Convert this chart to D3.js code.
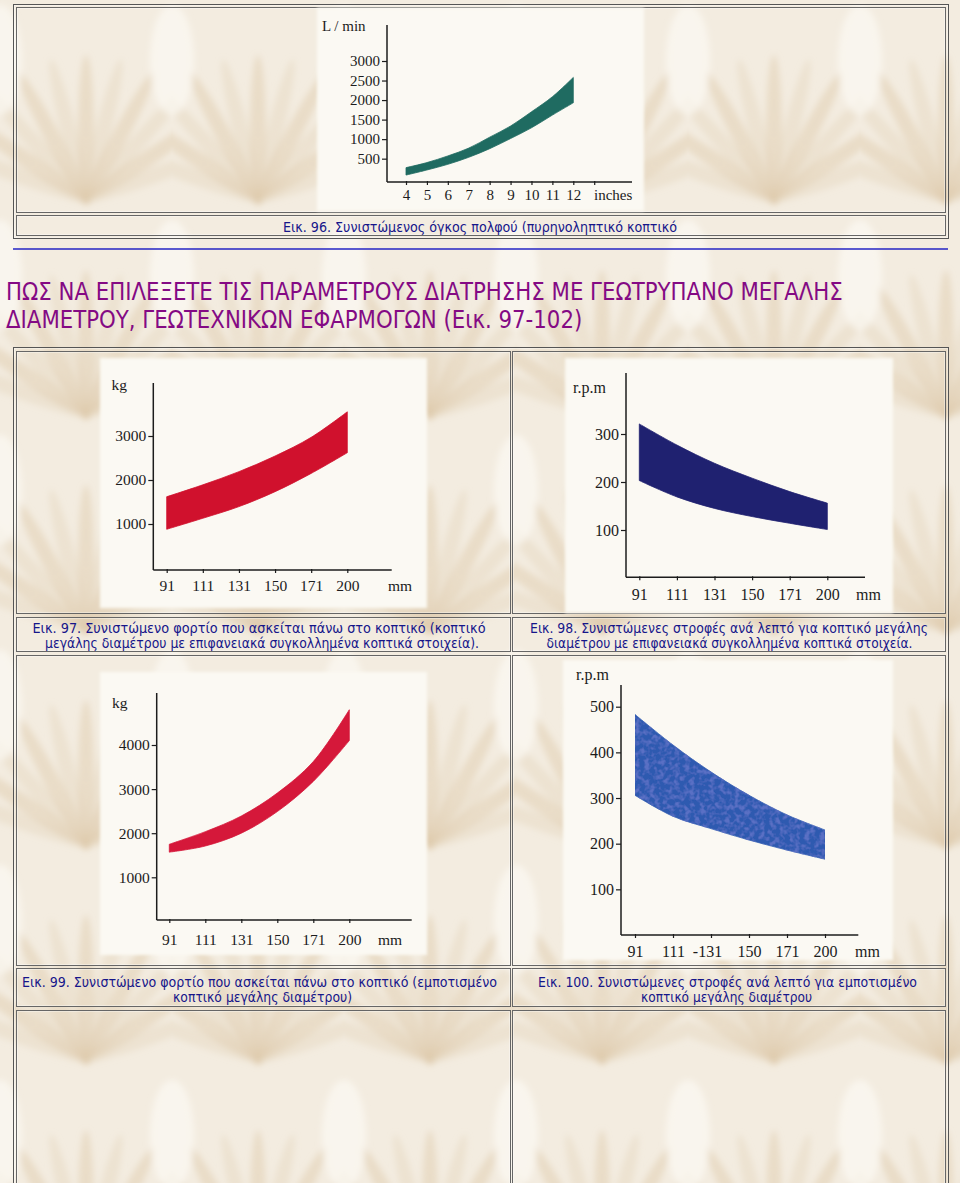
<!DOCTYPE html>
<html><head><meta charset="utf-8">
<script src="https://cdn.jsdelivr.net/npm/d3@7"></script>
<style>body{margin:0;background:#f1e9db;} svg{display:block}</style>
</head><body><svg id="c" width="960" height="1183"></svg>
<script>
// ---------- DATA ----------
// Fig 96: recommended mud volume (L/min) vs bit size (inches)
const flowX = [4, 5, 6, 7, 8, 9, 10, 11, 12];
const flowUpper = [270, 400, 570, 770, 1050, 1335, 1700, 2085, 2580];
const flowLower = [80, 210, 355, 535, 755, 1015, 1290, 1615, 1930];
const flowYTicks = [500, 1000, 1500, 2000, 2500, 3000];
const flowXTicks = [4, 5, 6, 7, 8, 9, 10, 11, 12, 13];
const flowXLabels = ["4", "5", "6", "7", "8", "9", "10", "11", "12", ""];

// Diameter categories (mm)
const diameterLabels = ["91", "111", "131", "150", "171", "200"];
const fig100Labels = ["91", "111", "-131", "150", "171", "200"];

// Fig 97: load (kg), surface-set bits
const loadSurfUpper = [1620, 1890, 2190, 2545, 2970, 3550];
const loadSurfLower = [880, 1130, 1395, 1735, 2150, 2620];
// Fig 98: r.p.m, surface-set bits
const rpmSurfUpper = [321, 277, 239, 208, 180, 156];
const rpmSurfLower = [203, 169, 145, 128, 114, 101];
// Fig 99: load (kg), impregnated bits
const loadImpUpper = [1750, 2035, 2390, 2910, 3625, 4800];
const loadImpLower = [1570, 1710, 2000, 2490, 3175, 4100];
// Fig 100: r.p.m, impregnated bits
const rpmImpUpper = [483, 416, 357, 306, 263, 230];
const rpmImpLower = [306, 260, 233, 208, 186, 166];

const loadTicks97 = [1000, 2000, 3000];
const loadTicks99 = [1000, 2000, 3000, 4000];
const rpmTicks98 = [100, 200, 300];
const rpmTicks100 = [100, 200, 300, 400, 500];

// ---------- PAGE ----------
const svg = d3.select("#c");
const defs = svg.append("defs");

// background texture
const pat = defs.append("pattern").attr("id", "bgpat").attr("patternUnits", "userSpaceOnUse")
  .attr("width", 172).attr("height", 215);
pat.append("rect").attr("width", 172).attr("height", 215).attr("fill", "#f3ece0");
defs.append("filter").attr("id", "soft").append("feGaussianBlur").attr("stdDeviation", 3);
const leafG = pat.append("g").attr("filter", "url(#soft)");
d3.range(-70, 71, 14).forEach((a, i) => {
  leafG.append("ellipse").attr("cx", 86).attr("cy", 200 - 70).attr("rx", 8).attr("ry", 75)
    .attr("transform", `rotate(${a},86,200)`)
    .attr("fill", i % 2 ? "#d9c3a0" : "#e3d3b8").attr("opacity", 0.38);
});
leafG.append("ellipse").attr("cx", 0).attr("cy", 60).attr("rx", 22).attr("ry", 55).attr("fill", "#fcf9f3").attr("opacity", 0.7);
leafG.append("ellipse").attr("cx", 172).attr("cy", 60).attr("rx", 22).attr("ry", 55).attr("fill", "#fcf9f3").attr("opacity", 0.7);
svg.append("rect").attr("width", 960).attr("height", 1183).attr("fill", "url(#bgpat)");

// panel blur
defs.append("filter").attr("id", "pblur").append("feGaussianBlur").attr("stdDeviation", 1.5);

// mottled texture for fig 100
const mf = defs.append("filter").attr("id", "mottle").attr("x", 0).attr("y", 0).attr("width", 1).attr("height", 1);
mf.append("feTurbulence").attr("type", "fractalNoise").attr("baseFrequency", 0.2).attr("numOctaves", 2).attr("seed", 4).attr("result", "n");
mf.append("feColorMatrix").attr("in", "n").attr("type", "matrix")
  .attr("values", "0 0 0 0 0.10  0 0 0 0 0.16  0 0 0 0 0.55  3.4 0 0 0 -1.45").attr("result", "spots");
mf.append("feComposite").attr("in", "spots").attr("in2", "SourceGraphic").attr("operator", "in").attr("result", "s2");
const mm = mf.append("feMerge");
mm.append("feMergeNode").attr("in", "SourceGraphic");
mm.append("feMergeNode").attr("in", "s2");

function cell(x0, y0, x1, y1, stroke) {
  svg.append("rect").attr("x", x0 + 0.5).attr("y", y0 + 0.5).attr("width", x1 - x0).attr("height", y1 - y0)
    .attr("fill", "none").attr("stroke", stroke || "#666").attr("stroke-width", 1);
  svg.append("rect").attr("x", x0 + 1.5).attr("y", y0 + 1.5).attr("width", x1 - x0 - 2).attr("height", y1 - y0 - 2)
    .attr("fill", "none").attr("stroke", "#fff").attr("stroke-opacity", 0.35).attr("stroke-width", 1);
}

// top table
cell(13, 4, 948, 238, "#555");
cell(16, 7, 945, 212);
cell(16, 215, 945, 235);
// blue rule
svg.append("line").attr("x1", 13).attr("x2", 948).attr("y1", 249).attr("y2", 249)
  .attr("stroke", "#2424c4").attr("stroke-width", 1.6);

// main table
cell(13, 347, 948, 1195, "#555");
[[351, 613], [617, 651], [655, 965], [968, 1006], [1010, 1190]].forEach(([a, b]) => {
  cell(16, a, 510, b);
  cell(512, a, 945, b);
});

// heading: both lines share one horizontal scale, fitted so line 1 spans its width
const headFont = "'DejaVu Sans Condensed','DejaVu Sans',sans-serif";
const headingLines = [
  "ΠΩΣ ΝΑ ΕΠΙΛΕΞΕΤΕ ΤΙΣ ΠΑΡΑΜΕΤΡΟΥΣ ΔΙΑΤΡΗΣΗΣ ΜΕ ΓΕΩΤΡΥΠΑΝΟ ΜΕΓΑΛΗΣ",
  "ΔΙΑΜΕΤΡΟΥ, ΓΕΩΤΕΧΝΙΚΩΝ ΕΦΑΡΜΟΓΩΝ (Εικ. 97-102)"
];
const hg = svg.append("g");
const hTexts = headingLines.map((t, i) => hg.append("text").attr("x", 0).attr("y", 300 + i * 28).text(t)
  .attr("font-family", headFont).attr("font-stretch", "condensed").attr("font-size", 25.5)
  .attr("fill", "#840a84"));
const k = 837 / hTexts[0].node().getComputedTextLength();
hg.attr("transform", `translate(6,0) scale(${k},1)`);

// captions
const captions = [
  { t: "Εικ. 96. Συνιστώμενος όγκος πολφού (πυρηνοληπτικό κοπτικό", cx: 480, y: 232, w: 394 },
  { t: "Εικ. 97. Συνιστώμενο φορτίο που ασκείται πάνω στο κοπτικό (κοπτικό", cx: 259, y: 633, w: 453 },
  { t: "μεγάλης διαμέτρου με επιφανειακά συγκολλημένα κοπτικά στοιχεία).", cx: 262, y: 648, w: 434 },
  { t: "Εικ. 98. Συνιστώμενες στροφές ανά λεπτό για κοπτικό μεγάλης", cx: 729, y: 633, w: 398 },
  { t: "διαμέτρου με επιφανειακά συγκολλημένα κοπτικά στοιχεία.", cx: 729.5, y: 648, w: 366 },
  { t: "Εικ. 99. Συνιστώμενο φορτίο που ασκείται πάνω στο κοπτικό (εμποτισμένο", cx: 259.5, y: 987, w: 475 },
  { t: "κοπτικό μεγάλης διαμέτρου)", cx: 262.5, y: 1002, w: 179 },
  { t: "Εικ. 100. Συνιστώμενες στροφές ανά λεπτό για εμποτισμένο", cx: 727.5, y: 987, w: 379 },
  { t: "κοπτικό μεγάλης διαμέτρου", cx: 726.5, y: 1002, w: 171 }
];
captions.forEach(c => svg.append("text").attr("x", c.cx).attr("y", c.y).attr("text-anchor", "middle").text(c.t)
  .attr("font-family", headFont).attr("font-stretch", "condensed").attr("font-size", 14.5)
  .attr("fill", "#16168a").attr("textLength", c.w).attr("lengthAdjust", "spacingAndGlyphs"));

// ---------- CHARTS ----------
const serif = "'Liberation Serif','DejaVu Serif',serif";
const ink = "#1c1c1c";

function panel(x, y, w, h) {
  svg.append("rect").attr("x", x).attr("y", y).attr("width", w).attr("height", h)
    .attr("fill", "#fbf9f3").attr("filter", "url(#pblur)");
}

function drawChart(cfg) {
  panel(...cfg.panel);
  const g = svg.append("g");
  const x = cfg.x, y = cfg.y;
  const data = cfg.xs.map((v, i) => ({ x: v, hi: cfg.upper[i], lo: cfg.lower[i] }));
  const area = d3.area().x(d => x(d.x)).y0(d => y(d.lo)).y1(d => y(d.hi)).curve(d3.curveCatmullRom.alpha(0.5));
  g.append("path").attr("d", area(data)).attr("fill", cfg.color)
    .attr("stroke", cfg.color).attr("stroke-width", 0.8)
    .attr("filter", cfg.filter || null);

  // axes lines
  g.append("line").attr("x1", cfg.ox).attr("x2", cfg.ox).attr("y1", cfg.yTop).attr("y2", cfg.oy)
    .attr("stroke", ink).attr("stroke-width", 1.5);
  g.append("line").attr("x1", cfg.ox).attr("x2", cfg.xEnd).attr("y1", cfg.oy).attr("y2", cfg.oy)
    .attr("stroke", ink).attr("stroke-width", 1.5);

  // y axis ticks
  const ya = d3.axisLeft(y).tickValues(cfg.yTicks).tickSize(5).tickPadding(cfg.yPad || 2).tickFormat(d3.format("d"));
  const yg = g.append("g").attr("transform", `translate(${cfg.ox},0)`).call(ya);
  yg.select(".domain").remove();
  yg.selectAll("line").attr("stroke", ink).attr("stroke-width", 1.2);
  yg.selectAll("text").attr("font-family", serif).attr("font-size", cfg.fs).attr("fill", ink);

  // x axis ticks
  const xa = d3.axisBottom(x).tickValues(cfg.xTickVals).tickSize(4).tickPadding(0)
    .tickFormat((d, i) => cfg.xLabels[i]);
  const xg = g.append("g").attr("transform", `translate(0,${cfg.oy - 1})`).call(xa);
  xg.select(".domain").remove();
  xg.selectAll("line").attr("stroke", ink).attr("stroke-width", 1.2);
  xg.selectAll("text").attr("font-family", serif).attr("font-size", cfg.fs).attr("fill", ink)
    .attr("dy", null).attr("y", cfg.xLabelY - cfg.oy + 1);
  if (cfg.labelShift) xg.selectAll("text").attr("dx", (d, i) => cfg.labelShift[i] || 0);

  // unit labels
  g.append("text").attr("x", cfg.yUnit[0]).attr("y", cfg.yUnit[1]).text(cfg.yUnitText)
    .attr("font-family", serif).attr("font-size", cfg.fs).attr("fill", ink);
  g.append("text").attr("x", cfg.xUnit[0]).attr("y", cfg.xUnit[1]).text(cfg.xUnitText)
    .attr("font-family", serif).attr("font-size", cfg.fs).attr("fill", ink);
}

// Fig 96
drawChart({
  panel: [317, 8, 327, 203],
  x: d3.scaleLinear().domain([4, 12]).range([406, 573.3]),
  y: d3.scaleLinear().domain([0, 3000]).range([178.2, 61]),
  xs: flowX, upper: flowUpper, lower: flowLower,
  color: "#1f6b61",
  ox: 387, oy: 182, yTop: 25, xEnd: 632,
  yTicks: flowYTicks, xTickVals: flowXTicks, xLabels: flowXLabels,
  fs: 15, xLabelY: 200,
  yUnit: [322, 31], yUnitText: "L / min",
  xUnit: [594, 200], xUnitText: "inches"
});

// Fig 97
drawChart({
  panel: [100, 358, 327, 250],
  x: d3.scalePoint().domain(diameterLabels).range([166.7, 347.3]),
  y: d3.scaleLinear().domain([0, 3000]).range([568, 436]),
  xs: diameterLabels, upper: loadSurfUpper, lower: loadSurfLower,
  color: "#d0112d",
  ox: 153.3, oy: 570, yTop: 383, xEnd: 391.7,
  yTicks: loadTicks97, xTickVals: diameterLabels, xLabels: diameterLabels,
  fs: 15.5, xLabelY: 591,
  yUnit: [111.5, 390], yUnitText: "kg",
  xUnit: [388, 591], xUnitText: "mm"
});

// Fig 98
drawChart({
  panel: [565, 358, 328, 255],
  x: d3.scalePoint().domain(diameterLabels).range([639.3, 827.3]),
  y: d3.scaleLinear().domain([0, 300]).range([578, 434]),
  xs: diameterLabels, upper: rpmSurfUpper, lower: rpmSurfLower,
  color: "#1f2170",
  ox: 626, oy: 577.3, yTop: 373, xEnd: 865,
  yTicks: rpmTicks98, xTickVals: diameterLabels, xLabels: diameterLabels,
  fs: 16, xLabelY: 600,
  yUnit: [573, 392.7], yUnitText: "r.p.m",
  xUnit: [856, 600], xUnitText: "mm"
});

// Fig 99
drawChart({
  panel: [100, 672, 327, 283],
  x: d3.scalePoint().domain(diameterLabels).range([169.3, 349.3]),
  y: d3.scaleLinear().domain([0, 4000]).range([921.4, 745]),
  xs: diameterLabels, upper: loadImpUpper, lower: loadImpLower,
  color: "#d5183a",
  ox: 156.7, oy: 920, yTop: 693, xEnd: 411.7,
  yTicks: loadTicks99, xTickVals: diameterLabels, xLabels: diameterLabels,
  fs: 15.5, xLabelY: 945,
  yUnit: [112, 707.7], yUnitText: "kg",
  xUnit: [378, 945], xUnitText: "mm"
});

// Fig 100
drawChart({
  panel: [563, 660, 330, 300],
  x: d3.scalePoint().domain(diameterLabels).range([635, 825]),
  y: d3.scaleLinear().domain([0, 500]).range([935, 706.7]),
  xs: diameterLabels, upper: rpmImpUpper, lower: rpmImpLower,
  color: "#2e5ab0", filter: "url(#mottle)",
  ox: 621, oy: 935, yTop: 685, xEnd: 858.3,
  yTicks: rpmTicks100, xTickVals: diameterLabels, xLabels: fig100Labels,
  labelShift: [0, 0, -4, 0, 0, 0],
  fs: 16, xLabelY: 957,
  yUnit: [576, 680], yUnitText: "r.p.m",
  xUnit: [855, 957], xUnitText: "mm"
});
</script></body></html>
